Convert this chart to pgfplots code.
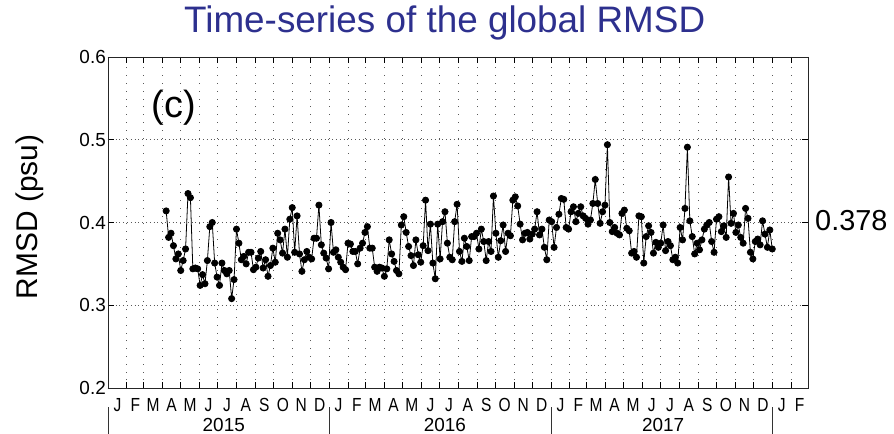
\documentclass[border=0pt]{standalone}
\usepackage{pgfplots}
\pgfplotsset{compat=1.18}
\usepackage{pgfplotstable}
\usepackage{fontspec}
\setmainfont{Liberation Sans}
\definecolor{titleblue}{RGB}{45,48,142}

% Global RMSD, one value every 4 days; day = days since 1 Jan 2015
\pgfplotstableread[row sep=\\]{
day rmsd\\
96 0.414\\ 100 0.382\\ 104 0.387\\ 108 0.372\\ 112 0.356\\ 116 0.362\\ 120 0.342\\ 124 0.354\\
128 0.368\\ 132 0.435\\ 136 0.430\\ 140 0.344\\ 144 0.345\\ 148 0.344\\ 152 0.324\\ 156 0.337\\
160 0.326\\ 164 0.354\\ 168 0.395\\ 172 0.400\\ 176 0.351\\ 180 0.334\\ 184 0.324\\ 188 0.351\\
192 0.342\\ 196 0.338\\ 200 0.342\\ 204 0.308\\ 208 0.331\\ 212 0.392\\ 216 0.375\\ 220 0.355\\
224 0.359\\ 228 0.350\\ 232 0.364\\ 236 0.364\\ 240 0.343\\ 244 0.346\\ 248 0.357\\ 252 0.365\\
256 0.345\\ 260 0.355\\ 264 0.335\\ 268 0.348\\ 272 0.369\\ 276 0.352\\ 280 0.387\\ 284 0.379\\
288 0.363\\ 292 0.392\\ 296 0.358\\ 300 0.404\\ 304 0.418\\ 308 0.364\\ 312 0.408\\ 316 0.362\\
320 0.341\\ 324 0.355\\ 328 0.365\\ 332 0.358\\ 336 0.356\\ 340 0.381\\ 344 0.381\\ 348 0.421\\
352 0.373\\ 356 0.363\\ 360 0.357\\ 364 0.344\\ 368 0.400\\ 372 0.364\\ 376 0.367\\ 380 0.358\\
384 0.352\\ 388 0.346\\ 392 0.343\\ 396 0.375\\ 400 0.374\\ 404 0.365\\ 408 0.365\\ 412 0.350\\
416 0.369\\ 420 0.375\\ 424 0.388\\ 428 0.395\\ 432 0.369\\ 436 0.369\\ 440 0.346\\ 444 0.341\\
448 0.346\\ 452 0.345\\ 456 0.335\\ 460 0.344\\ 464 0.379\\ 468 0.362\\ 472 0.353\\ 476 0.342\\
480 0.338\\ 484 0.397\\ 488 0.407\\ 492 0.388\\ 496 0.371\\ 500 0.360\\ 504 0.348\\ 508 0.379\\
512 0.361\\ 516 0.352\\ 520 0.372\\ 524 0.427\\ 528 0.366\\ 532 0.398\\ 536 0.351\\ 540 0.332\\
544 0.398\\ 548 0.356\\ 552 0.401\\ 556 0.413\\ 560 0.375\\ 564 0.358\\ 568 0.355\\ 572 0.401\\
576 0.422\\ 580 0.365\\ 584 0.353\\ 588 0.381\\ 592 0.371\\ 596 0.354\\ 600 0.383\\ 604 0.383\\
608 0.387\\ 612 0.368\\ 616 0.392\\ 620 0.377\\ 624 0.354\\ 628 0.377\\ 632 0.365\\ 636 0.432\\
640 0.387\\ 644 0.358\\ 648 0.378\\ 652 0.397\\ 656 0.365\\ 660 0.387\\ 664 0.384\\ 668 0.427\\
672 0.431\\ 676 0.420\\ 680 0.398\\ 684 0.379\\ 688 0.387\\ 692 0.388\\ 696 0.380\\ 700 0.386\\
704 0.392\\ 708 0.413\\ 712 0.385\\ 716 0.392\\ 720 0.370\\ 724 0.355\\ 728 0.403\\ 732 0.401\\
736 0.370\\ 740 0.394\\ 744 0.410\\ 748 0.429\\ 752 0.428\\ 756 0.394\\ 760 0.392\\ 764 0.413\\
768 0.419\\ 772 0.401\\ 776 0.411\\ 780 0.419\\ 784 0.408\\ 788 0.405\\ 792 0.398\\ 796 0.403\\
800 0.423\\ 804 0.452\\ 808 0.423\\ 812 0.399\\ 816 0.413\\ 820 0.421\\ 824 0.494\\ 828 0.400\\
832 0.389\\ 836 0.394\\ 840 0.387\\ 844 0.385\\ 848 0.411\\ 852 0.415\\ 856 0.393\\ 860 0.390\\
864 0.363\\ 868 0.365\\ 872 0.358\\ 876 0.408\\ 880 0.407\\ 884 0.351\\ 888 0.383\\ 892 0.396\\
896 0.388\\ 900 0.363\\ 904 0.376\\ 908 0.370\\ 912 0.375\\ 916 0.397\\ 920 0.366\\ 924 0.377\\
928 0.372\\ 932 0.355\\ 936 0.358\\ 940 0.351\\ 944 0.394\\ 948 0.379\\ 952 0.417\\ 956 0.491\\
960 0.402\\ 964 0.383\\ 968 0.362\\ 972 0.375\\ 976 0.367\\ 980 0.379\\ 984 0.392\\ 988 0.397\\
992 0.400\\ 996 0.377\\ 1000 0.364\\ 1004 0.404\\ 1008 0.407\\ 1012 0.389\\ 1016 0.396\\ 1020 0.382\\
1024 0.455\\ 1028 0.399\\ 1032 0.411\\ 1036 0.388\\ 1040 0.397\\ 1044 0.382\\ 1048 0.375\\ 1052 0.417\\
1056 0.405\\ 1060 0.364\\ 1064 0.356\\ 1068 0.377\\ 1072 0.380\\ 1076 0.373\\ 1080 0.402\\ 1084 0.386\\
1088 0.370\\ 1092 0.391\\ 1096 0.368\\
}\rmsdtable

\begin{document}
\begin{tikzpicture}
\begin{axis}[
  at={(0,0)}, anchor=south west,
  scale only axis, width=700bp, height=331bp,
  xmin=0, xmax=1155, ymin=0.2, ymax=0.6,
  ytick={0.2,0.3,0.4,0.5,0.6},
  % month labels sit mid-month, ticks and grid at month starts
  xtick={15.5,45,74.5,105,135.5,166,196.5,227.5,258,288.5,319,349.5,
         380.5,410.5,440.5,471,501.5,532,562.5,593.5,624,654.5,685,715.5,
         746.5,776,805.5,836,866.5,897,927.5,958.5,989,1019.5,1050,1080.5,
         1111.5,1141},
  xticklabels={J,F,M,A,M,J,J,A,S,O,N,D,J,F,M,A,M,J,J,A,S,O,N,D,
               J,F,M,A,M,J,J,A,S,O,N,D,J,F},
  minor xtick={0,31,59,90,120,151,181,212,243,273,304,334,
               365,396,425,456,486,517,547,578,609,639,670,700,
               731,762,790,821,851,882,912,943,974,1004,1035,1065,
               1096,1127,1155},
  xminorgrids=true, xmajorgrids=false, ymajorgrids=true,
  minor grid style={black!65, line width=0.8bp, dash pattern=on 0.8bp off 7bp},
  major grid style={black!65, line width=0.8bp, dash pattern=on 0.8bp off 3bp},
  major x tick style={draw=none},
  major tick length=6bp, minor tick length=6bp,
  tick style={black, line width=0.8bp},
  axis line style={black!85, line width=0.9bp},
  /pgf/number format/assume math mode=true,
  yticklabel style={/pgf/number format/fixed, /pgf/number format/fixed zerofill,
    /pgf/number format/precision=1, font=\fontsize{19}{19}\selectfont, inner sep=2bp},
  xticklabel style={font=\fontsize{19}{19}\selectfont, xscale=0.82,
    inner sep=1bp, yshift=-9bp},
  title={Time-series of the global RMSD},
  title style={at={(axis description cs:0.481,1.057)}, anchor=base,
    font=\fontsize{37}{37}\selectfont, text=titleblue},
  ylabel={RMSD (psu)},
  ylabel style={at={(axis description cs:-0.1,0.517)}, anchor=base,
    font=\fontsize{30}{30}\selectfont},
  clip=false,
]
\addplot[black, line width=0.8bp, mark=*, mark size=3.1bp,
  mark options={fill=black, solid}] table[x=day, y=rmsd] {\rmsdtable};

\node[anchor=base, font=\fontsize{38}{38}\selectfont] at (axis cs:109,0.5265) {(c)};
\node[anchor=west, inner sep=0pt, font=\fontsize{29}{29}\selectfont]
  at (axis description cs:1.01,0.5045) {0.378};

% year labels and separators
\node[anchor=base, inner sep=0pt, font=\fontsize{19}{19}\selectfont] at ([yshift=-43bp]axis cs:191,0.2) {2015};
\node[anchor=base, inner sep=0pt, font=\fontsize{19}{19}\selectfont] at ([yshift=-43bp]axis cs:556,0.2) {2016};
\node[anchor=base, inner sep=0pt, font=\fontsize{19}{19}\selectfont] at ([yshift=-43bp]axis cs:916,0.2) {2017};
\draw[black!80, line width=0.8bp] ([yshift=-19bp]axis cs:0,0.2) -- ([yshift=-46bp]axis cs:0,0.2);
\draw[black!80, line width=0.8bp] ([yshift=-19bp]axis cs:365,0.2) -- ([yshift=-46bp]axis cs:365,0.2);
\draw[black!80, line width=0.8bp] ([yshift=-19bp]axis cs:731,0.2) -- ([yshift=-46bp]axis cs:731,0.2);
\draw[black!80, line width=0.8bp] ([yshift=-19bp]axis cs:1096,0.2) -- ([yshift=-46bp]axis cs:1096,0.2);
\end{axis}
\pgfresetboundingbox
\path[use as bounding box] (-108bp,-46bp) rectangle (786bp,388bp);
\end{tikzpicture}
\end{document}
